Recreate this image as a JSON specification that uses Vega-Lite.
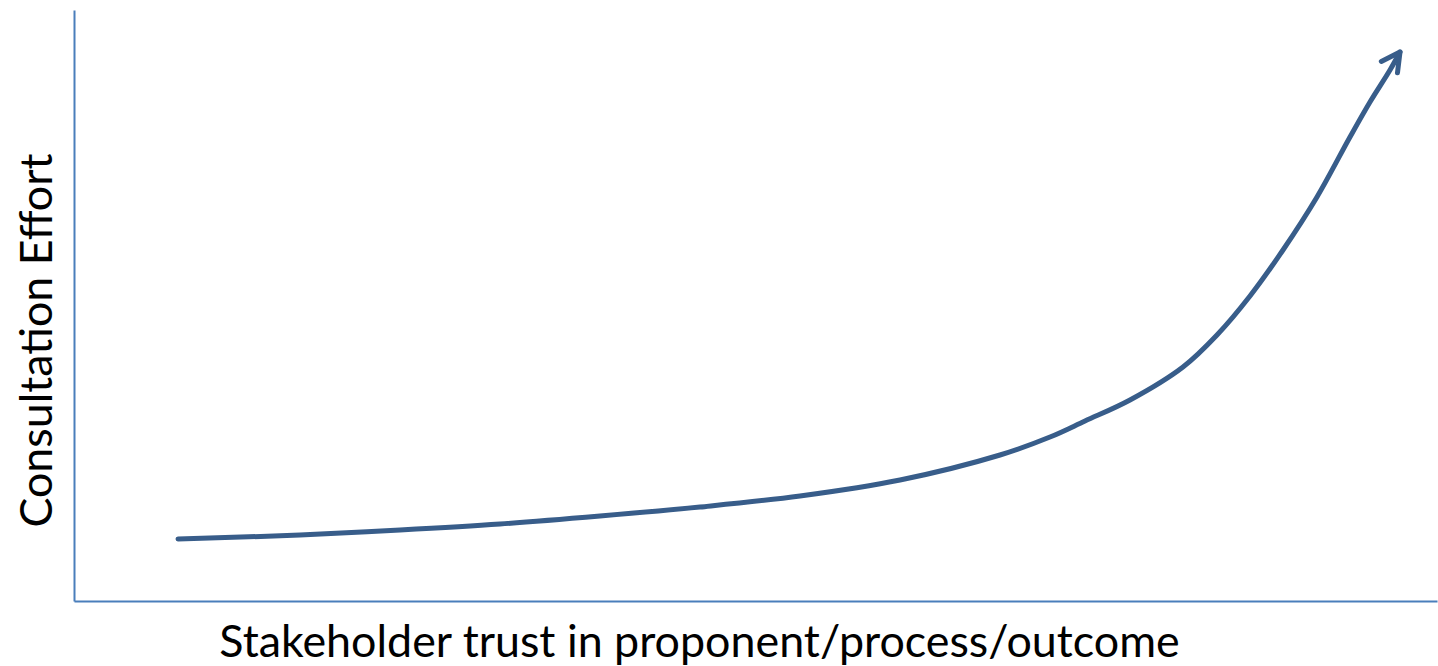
{
  "$schema": "https://vega.github.io/schema/vega-lite/v6.json",
  "autosize": {"type": "none"},
  "padding": {"left": 74, "top": 10, "right": 1, "bottom": 65},
  "width": 1363,
  "height": 591,
  "background": "white",
  "config": {
    "view": {"stroke": null},
    "axis": {
      "grid": false,
      "ticks": false,
      "labels": false,
      "domainColor": "#4A7EBB",
      "domainWidth": 2,
      "titleFont": "Lato",
      "titleFontSize": 44.8,
      "titleFontWeight": "normal",
      "titleColor": "#000000"
    }
  },
  "data": {
    "values": [
      {"x": 104, "y": 62, "tip": false},
      {"x": 226, "y": 66, "tip": false},
      {"x": 326, "y": 71, "tip": false},
      {"x": 426, "y": 77, "tip": false},
      {"x": 526, "y": 85, "tip": false},
      {"x": 626, "y": 94, "tip": false},
      {"x": 726, "y": 105, "tip": false},
      {"x": 826, "y": 121, "tip": false},
      {"x": 926, "y": 146, "tip": false},
      {"x": 976, "y": 164, "tip": false},
      {"x": 1011, "y": 180, "tip": false},
      {"x": 1056, "y": 201, "tip": false},
      {"x": 1109, "y": 234, "tip": false},
      {"x": 1143, "y": 266, "tip": false},
      {"x": 1176, "y": 305, "tip": false},
      {"x": 1209, "y": 351, "tip": false},
      {"x": 1243, "y": 404, "tip": false},
      {"x": 1276, "y": 464, "tip": false},
      {"x": 1296, "y": 499, "tip": false},
      {"x": 1316, "y": 531, "tip": false},
      {"x": 1326, "y": 549, "tip": true}
    ]
  },
  "encoding": {
    "x": {
      "field": "x",
      "type": "quantitative",
      "scale": {"domain": [0, 1363], "nice": false, "zero": false},
      "axis": {
        "title": "Stakeholder trust in proponent/process/outcome",
        "titleX": 625,
        "titleY": 55,
        "titleAlign": "center",
        "titleBaseline": "alphabetic",
        "values": []
      }
    },
    "y": {
      "field": "y",
      "type": "quantitative",
      "scale": {"domain": [0, 591], "nice": false, "zero": false},
      "axis": {
        "title": "Consultation Effort",
        "titleX": -23,
        "titleY": 330,
        "titleAngle": -90,
        "titleAlign": "center",
        "titleBaseline": "alphabetic",
        "values": []
      }
    }
  },
  "layer": [
    {
      "mark": {
        "type": "line",
        "interpolate": "catmull-rom",
        "color": "#385D8A",
        "strokeWidth": 5,
        "strokeCap": "round"
      }
    },
    {
      "transform": [{"filter": "datum.tip"}],
      "mark": {
        "type": "point",
        "shape": "M-0.47,0.88L0,0L0.47,0.88",
        "filled": false,
        "color": "#385D8A",
        "stroke": "#385D8A",
        "strokeWidth": 5,
        "strokeCap": "round",
        "strokeJoin": "round",
        "size": 1764,
        "angle": 35,
        "opacity": 1
      }
    }
  ]
}
